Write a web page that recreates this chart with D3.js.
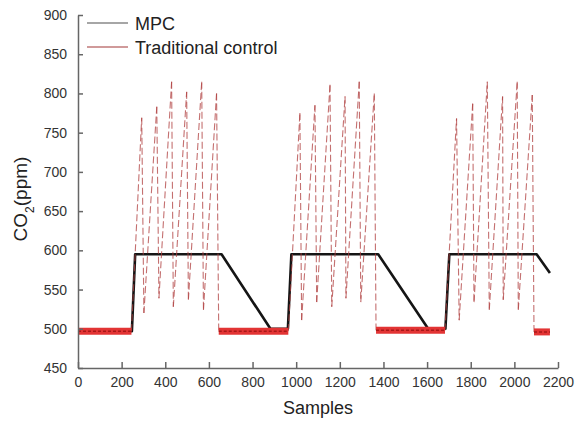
<!DOCTYPE html>
<html>
<head>
<meta charset="utf-8">
<script src="https://cdn.jsdelivr.net/npm/d3@7"></script>
<style>
  body { margin: 0; background: #fff; }
  svg { font-family: "Liberation Sans", Arial, sans-serif; }
</style>
</head>
<body>
<script>
// values
var xTicks = [0, 200, 400, 600, 800, 1000, 1200, 1400, 1600, 1800, 2000, 2200];
var yTicks = [450, 500, 550, 600, 650, 700, 750, 800, 850, 900];

var tradSamples = [0, 245, 292, 302, 361, 371, 429, 437, 498, 506, 567, 575, 635, 645,
    964, 1017, 1025, 1086, 1094, 1155, 1163, 1224, 1228, 1289, 1296, 1358, 1366,
    1682, 1735, 1747, 1809, 1815, 1876, 1885, 1946, 1949, 2013, 2018, 2082, 2090, 2163];
var tradValues = [497, 497, 769, 520, 783, 539, 815, 528, 802, 537, 815, 524, 800, 497,
    497, 775, 511, 785, 534, 811, 528, 796, 539, 815, 534, 800, 498,
    498, 768, 511, 787, 534, 815, 524, 796, 537, 815, 524, 798, 496, 496];

var mpcSamples = [0, 247, 262, 658, 882, 962, 978, 1376, 1605, 1684, 1702, 2102, 2163];
var mpcValues = [497, 497, 595, 595, 500, 500, 595, 595, 500, 500, 595, 595, 571];

var width = 581, height = 426;
var margin = {top: 15, right: 23, bottom: 58, left: 78};

var svg = d3.select("body").append("svg")
    .attr("width", width)
    .attr("height", height);

var x = d3.scaleLinear().domain([0, 2200]).range([margin.left, width - margin.right]);
var y = d3.scaleLinear().domain([450, 900]).range([height - margin.bottom, margin.top]);

var line = d3.line()
    .x(function (d) { return x(d[0]); })
    .y(function (d) { return y(d[1]); });

var mpc = mpcSamples.map(function (s, i) { return [s, mpcValues[i]]; });
var trad = tradSamples.map(function (s, i) { return [s, tradValues[i]]; });

// MPC
svg.append("path")
    .attr("d", line(mpc))
    .attr("fill", "none")
    .attr("stroke", "#151515")
    .attr("stroke-width", 2.6)
    .attr("stroke-linejoin", "round");

// traditional control: flat parts look like a thick red band, the saw teeth are thin dashes
var segs = [];
for (var i = 0; i < trad.length - 1; i++) {
    segs.push([trad[i], trad[i + 1]]);
}
var flat = segs.filter(function (s) { return s[0][1] < 505 && s[1][1] < 505; });
var teeth = segs.filter(function (s) { return !(s[0][1] < 505 && s[1][1] < 505); });

svg.append("g").selectAll("path")
    .data(teeth)
    .enter().append("path")
    .attr("d", line)
    .attr("fill", "none")
    .attr("stroke", "#b04040")
    .attr("stroke-opacity", 0.75)
    .attr("stroke-width", 1.1)
    .attr("stroke-dasharray", "7,3");

svg.append("g").selectAll("path")
    .data(flat)
    .enter().append("path")
    .attr("d", line)
    .attr("fill", "none")
    .attr("stroke", "#e23434")
    .attr("stroke-width", 7);

svg.append("g").selectAll("path")
    .data(flat)
    .enter().append("path")
    .attr("d", line)
    .attr("fill", "none")
    .attr("stroke", "#a81818")
    .attr("stroke-width", 1.5)
    .attr("stroke-dasharray", "3,2");

// axes
var xAxis = d3.axisBottom(x).tickValues(xTicks).tickFormat(d3.format("d"))
    .tickSize(-6).tickSizeOuter(0).tickPadding(9);
var yAxis = d3.axisLeft(y).tickValues(yTicks).tickFormat(d3.format("d"))
    .tickSize(-5).tickSizeOuter(0).tickPadding(11);

var gx = svg.append("g")
    .attr("transform", "translate(0," + (height - margin.bottom) + ")")
    .call(xAxis);
var gy = svg.append("g")
    .attr("transform", "translate(" + margin.left + ",0)")
    .call(yAxis);

[gx, gy].forEach(function (g) {
    g.select(".domain").attr("stroke", "#666").attr("stroke-width", 1.5);
    g.selectAll(".tick line").attr("stroke", "#666").attr("stroke-width", 1.5);
    g.selectAll(".tick text").attr("fill", "#333").style("font-size", "14px");
});

svg.append("text")
    .attr("x", (margin.left + width - margin.right) / 2)
    .attr("y", 414)
    .attr("text-anchor", "middle")
    .attr("fill", "#222")
    .style("font-size", "18px")
    .text("Samples");

var yl = svg.append("text")
    .attr("transform", "translate(27,199) rotate(-90)")
    .attr("text-anchor", "middle")
    .attr("fill", "#222")
    .style("font-size", "19px");
yl.append("tspan").text("CO");
yl.append("tspan").attr("baseline-shift", "sub").style("font-size", "12px").text("2");
yl.append("tspan").text("(ppm)");

// legend
var legend = [
    {name: "MPC", color: "#888", y: 23},
    {name: "Traditional control", color: "#c07878", y: 47}
];
var lg = svg.append("g").selectAll("g")
    .data(legend)
    .enter().append("g");
lg.append("line")
    .attr("x1", 87).attr("x2", 128)
    .attr("y1", function (d) { return d.y; })
    .attr("y2", function (d) { return d.y; })
    .attr("stroke", function (d) { return d.color; })
    .attr("stroke-width", 1.3);
lg.append("text")
    .attr("x", 135)
    .attr("y", function (d) { return d.y + 7; })
    .attr("fill", "#222")
    .style("font-size", "18px")
    .text(function (d) { return d.name; });
</script>
</body>
</html>
